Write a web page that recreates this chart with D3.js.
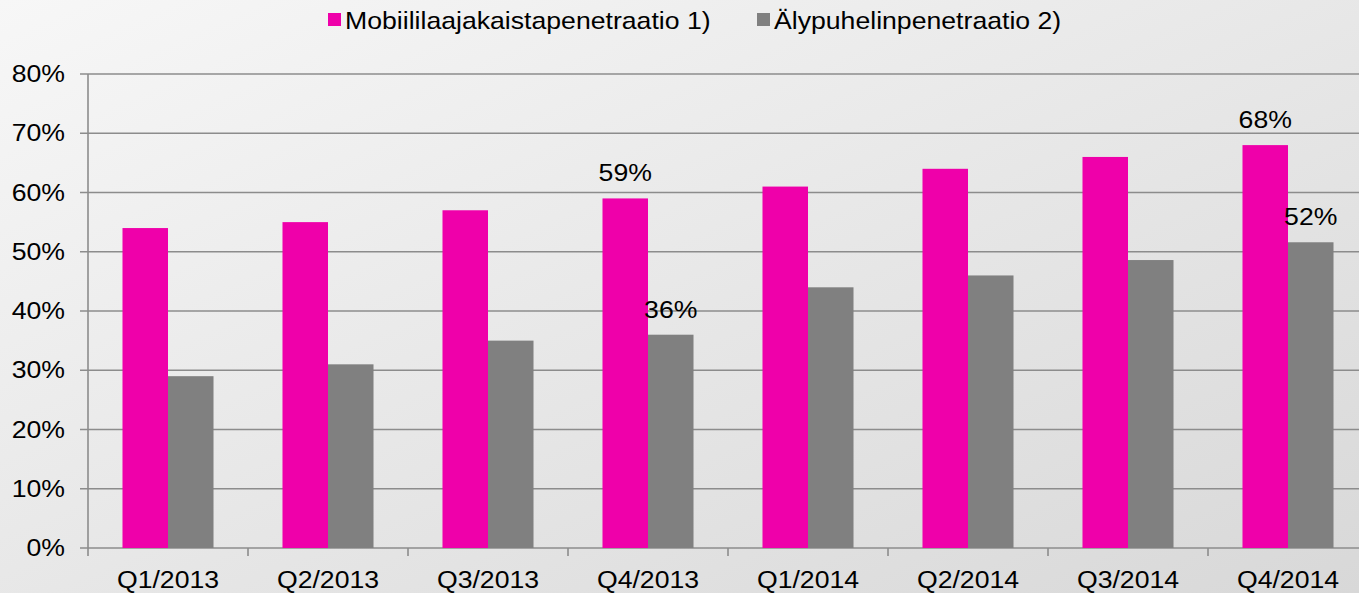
<!DOCTYPE html>
<html>
<head>
<meta charset="utf-8">
<script src="https://cdn.jsdelivr.net/npm/d3@7"></script>
<style>
  html, body { margin: 0; padding: 0; }
  body { width: 1359px; height: 593px; overflow: hidden; }
  svg text { font-family: "Liberation Sans", Arial, sans-serif; fill: #000; }
</style>
</head>
<body>
<svg id="chart" width="1359" height="593"></svg>
<script>
// data
var categories = ['Q1/2013', 'Q2/2013', 'Q3/2013', 'Q4/2013', 'Q1/2014', 'Q2/2014', 'Q3/2014', 'Q4/2014'];
var seriesNames = ['Mobiililaajakaistapenetraatio 1)', 'Älypuhelinpenetraatio 2)'];
var mobileBroadband = [54, 55, 57, 59, 61, 64, 66, 68];
var smartphone = [29, 31, 35, 36, 44, 46, 48.6, 51.6];
var yTicks = [0, 10, 20, 30, 40, 50, 60, 70, 80];
// labels shown only on a few bars: [series index, category index, text]
var dataLabels = [[0, 3, '59%'], [1, 3, '36%'], [0, 7, '68%'], [1, 7, '52%']];

var colors = ['#ef00aa', '#808080'];
var stretch = 1.11; // text in the reference is a bit wider than normal

var svg = d3.select('#chart');
var W = 1359, H = 593;
var plotLeft = 88, plotTop = 74, plotBottom = 548;

// background gradient
var defs = svg.append('defs');
var grad = defs.append('linearGradient')
  .attr('id', 'bg')
  .attr('x1', '0%').attr('y1', '0%')
  .attr('x2', '100%').attr('y2', '100%');
grad.append('stop').attr('offset', '0%').attr('stop-color', '#f7f7f7');
grad.append('stop').attr('offset', '100%').attr('stop-color', '#d8d8d8');
svg.append('rect').attr('width', W).attr('height', H).attr('fill', 'url(#bg)');

var x0 = d3.scaleBand().domain(categories).range([plotLeft, plotLeft + 160 * categories.length]).padding(0);
var x1 = d3.scaleBand().domain([0, 1]).range([0, x0.bandwidth()]).paddingInner(0).paddingOuter(0.758);
var y = d3.scaleLinear().domain([0, 80]).range([plotBottom, plotTop]);

function stretchedText(sel, x, yy, anchor, txt, size) {
  return sel.append('text')
    .attr('transform', 'translate(' + x + ',' + yy + ') scale(' + stretch + ',1)')
    .attr('text-anchor', anchor)
    .style('font-size', size + 'px')
    .text(txt);
}

// gridlines + y labels
var grid = svg.append('g');
yTicks.forEach(function(t) {
  grid.append('line')
    .attr('x1', plotLeft - 8).attr('x2', W)
    .attr('y1', y(t)).attr('y2', y(t))
    .attr('stroke', '#8c8c8c')
    .attr('stroke-width', 1.6);
  stretchedText(svg, 65, y(t) + 8, 'end', t + '%', 24);
});

// y axis line
svg.append('line')
  .attr('x1', plotLeft).attr('x2', plotLeft)
  .attr('y1', plotTop).attr('y2', plotBottom + 8)
  .attr('stroke', '#8c8c8c').attr('stroke-width', 1.6);

// category ticks + labels
categories.forEach(function(c, i) {
  if (i > 0) {
    svg.append('line')
      .attr('x1', x0(c)).attr('x2', x0(c))
      .attr('y1', plotBottom).attr('y2', plotBottom + 8)
      .attr('stroke', '#8c8c8c').attr('stroke-width', 1.6);
  }
  stretchedText(svg, x0(c) + x0.bandwidth() / 2, 588, 'middle', c, 24);
});

// bars
var values = [mobileBroadband, smartphone];
values.forEach(function(vals, s) {
  svg.append('g').selectAll('rect')
    .data(vals)
    .enter().append('rect')
    .attr('x', function(d, i) { return x0(categories[i]) + x1(s); })
    .attr('y', function(d) { return y(d); })
    .attr('width', x1.bandwidth())
    .attr('height', function(d) { return plotBottom - y(d); })
    .attr('fill', colors[s]);
});

// data labels
dataLabels.forEach(function(l) {
  var s = l[0], i = l[1];
  var cx = x0(categories[i]) + x1(s) + x1.bandwidth() / 2;
  stretchedText(svg, cx, y(values[s][i]) - 17, 'middle', l[2], 24);
});

// legend
var legendX = [328, 757];
seriesNames.forEach(function(n, s) {
  svg.append('rect')
    .attr('x', legendX[s]).attr('y', 13)
    .attr('width', 13).attr('height', 13)
    .attr('fill', colors[s]);
  stretchedText(svg, legendX[s] + 17, 29, 'start', n, 24);
});
</script>
</body>
</html>
